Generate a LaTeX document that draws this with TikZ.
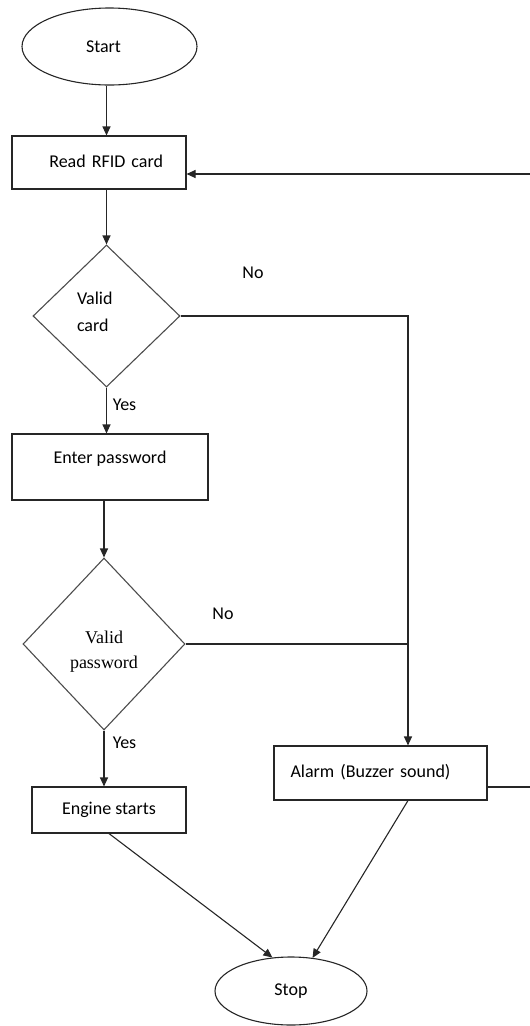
\documentclass[tikz,border=0pt]{standalone}
\usepackage{fontspec}
\setmainfont{Carlito}
\newfontfamily\serifTNR{Liberation Serif}
\usetikzlibrary{shapes.geometric,arrows.meta,calc}
\begin{document}
\begin{tikzpicture}[x=1pt,y=-1pt,
  font=\fontsize{18}{22}\selectfont,
  line width=1.1pt,
  conn/.style={draw=black!85},
  arr/.style={draw=black!85, -{Triangle[length=9pt,width=8pt]}},
  boxnode/.style={draw=black!85, rectangle, inner sep=0pt, text height=12.6pt, text depth=3.6pt},
  term/.style={draw=black!85, ellipse, inner sep=0pt},
  decide/.style={draw=black!70, diamond, inner sep=0pt, aspect=1},
  lbl/.style={inner sep=0pt}]
\useasboundingbox (0,0) rectangle (530,1026);
\clip (0,0) rectangle (530,1026);

% shapes
\node[term, minimum width=175pt, minimum height=77pt, text width=47pt, align=left] (start) at (109.5,46.5) {Start};
\node[boxnode, minimum width=174pt, minimum height=53pt, text width=128pt, align=right] (read) at (99,162.5) {Read RFID card};
\node[decide, minimum width=147pt, minimum height=142pt, text width=59pt, align=left, text depth=36pt] (card) at (106.5,316) {Valid\\[5pt]card};
\node[boxnode, minimum width=196pt, minimum height=66pt, text depth=19.6pt] (enter) at (110,467) {Enter password};
\node[decide, minimum width=162pt, minimum height=172pt, align=center, text height=52pt, font=\serifTNR\fontsize{18}{25}\selectfont] (pwd) at (104,644) {Valid\\password};
\node[boxnode, minimum width=154pt, minimum height=46pt] (engine) at (109,810) {Engine starts};
\node[boxnode, minimum width=213pt, minimum height=54pt, text width=180pt, align=left] (alarm) at (380.5,773) {Alarm (Buzzer sound)};
\node[term, minimum width=152pt, minimum height=68pt] (stop) at (291,991) {Stop};

% labels
\node[lbl] (no1) at (253,273) {No};
\node[lbl] (no2) at (223,614) {No};
\node[lbl] (yes1) at (124.5,405) {Yes};
\node[lbl] (yes2) at (124.5,743) {Yes};

% connectors
\draw[arr] (start.south -| card.north) -- (read.north -| card.north);
\draw[arr] (read.south -| card.north) -- (card.north);
\draw[arr] (card.south) -- (card.south |- enter.north);
\draw[arr] (enter.south -| pwd.north) -- (pwd.north);
\draw[arr] (pwd.south) -- (pwd.south |- engine.north);
\coordinate (ja) at ([xshift=27.5pt]alarm.north);
\draw[arr] (card.east) -| (ja);
\draw[conn] (pwd.east) -- (pwd.east -| ja);
\draw[arr] (engine.south) -- (stop.119);
\draw[arr] ([xshift=27.5pt]alarm.south) -- (stop.57);
\coordinate (ra) at ([yshift=-14pt]alarm.east);
\coordinate (rr) at ([yshift=-11.5pt]read.east);
\coordinate (edge) at (540,0);
\draw[arr] (ra) -- (ra -| edge) -- (rr -| edge) -- (rr);
\end{tikzpicture}
\end{document}
